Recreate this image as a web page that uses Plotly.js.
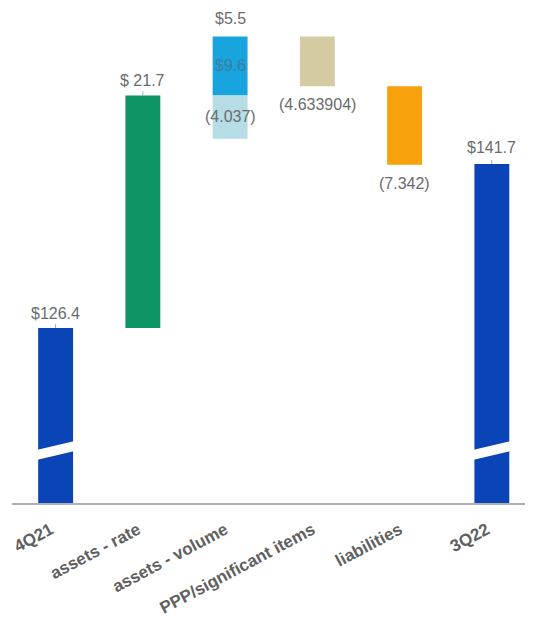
<!DOCTYPE html>
<html>
<head>
<meta charset="utf-8">
<script src="https://cdn.plot.ly/plotly-3.0.1.min.js"></script>
<style>html,body{margin:0;padding:0;background:#fff;}#chart{width:533px;height:626px;}</style>
</head>
<body>
<div id="chart"></div>
<script>
// ---- data ----
const categories = ["4Q21", "assets - rate", "assets - volume", "PPP/significant items", "liabilities", "3Q22"];
const startTotal = 126.4;
const endTotal = 141.7;
const assetsRate = 21.7;
const volumeNet = 5.5;
const volumeGross = 9.6;
const volumeNeg = 4.037;
const pppItems = 4.633904;
const liabilities = 7.342;
const valueLabels = ["$126.4", "$ 21.7", "$5.5", "$9.6", "(4.037)", "(4.633904)", "(7.342)", "$141.7"];

// ---- derived running levels ----
const lvlRate = startTotal + assetsRate;          // after assets-rate
const lvlVol = lvlRate + volumeNet;               // after assets-volume
const lvlPPP = lvlVol - pppItems;                 // after PPP
const lvlLiab = lvlPPP - liabilities;             // after liabilities

// ---- styles ----
const BW = 0.4;
const cTotal = "#0b44b6", cRate = "#0f9465", cVolPos = "#18a5df", cVolNeg = "#b6dde5", cPPP = "#d5cba2", cLiab = "#f7a10c";
const yMin = 110.08, yMax = 157.0;
const breakLevel = 114.1, breakRise = 0.84, breakGap = 0.93;

const common = {type: "bar", width: BW, hoverinfo: "skip", marker: {line: {width: 0}}};
const traces = [
  Object.assign({}, common, {x: [categories[0], categories[5]], y: [startTotal, endTotal], marker: {color: cTotal}}),
  Object.assign({}, common, {x: [categories[1]], y: [assetsRate], base: [startTotal], marker: {color: cRate}}),
  Object.assign({}, common, {x: [categories[2]], y: [volumeNet], base: [lvlRate], marker: {color: cVolPos}}),
  Object.assign({}, common, {x: [categories[2]], y: [volumeNeg], base: [lvlRate - volumeNeg], marker: {color: cVolNeg}}),
  Object.assign({}, common, {x: [categories[3]], y: [pppItems], base: [lvlPPP], marker: {color: cPPP}}),
  Object.assign({}, common, {x: [categories[4]], y: [liabilities], base: [lvlLiab], marker: {color: cLiab}})
];

const lblFont = {family: "Liberation Sans, Arial, sans-serif", size: 16, color: "#6b6b6b"};
function ann(xi, y, text, yanchor, yshift, color) {
  return {x: categories[xi], y: y, xref: "x", yref: "y", text: text, showarrow: false,
    yanchor: yanchor, yshift: yshift, font: Object.assign({}, lblFont, color ? {color: color} : {})};
}
const annotations = [
  ann(0, startTotal, valueLabels[0], "bottom", 4),
  ann(1, lvlRate, valueLabels[1], "bottom", 4),
  ann(2, lvlVol, valueLabels[2], "bottom", 7),
  ann(2, lvlRate + volumeNet / 2, valueLabels[3], "middle", 0, "#3f7d9c"),
  ann(2, lvlRate - volumeNeg / 2, valueLabels[4], "middle", 1),
  ann(3, lvlPPP, valueLabels[5], "top", -8),
  ann(4, lvlLiab, valueLabels[6], "top", -8),
  ann(5, endTotal, valueLabels[7], "bottom", 6)
];

// small connector ticks above the bars
const tickShapes = [[0, startTotal], [1, lvlRate], [5, endTotal]].map(([i, v]) => ({
  type: "line", xref: "x", yref: "y", x0: i, x1: i, ysizemode: "pixel", yanchor: v,
  y0: 0, y1: 4, line: {color: "#7fb0e0", width: 1}
}));

// axis breaks on the total bars
const shapes = [0, 5].map(i => {
  const x0 = i - BW / 2 - 0.02, x1 = i + BW / 2 + 0.02;
  const yl = breakLevel, yr = breakLevel + breakRise;
  return {type: "path", xref: "x", yref: "y", fillcolor: "#ffffff", line: {width: 0},
    path: `M ${x0},${yl} L ${x1},${yr} L ${x1},${yr + breakGap} L ${x0},${yl + breakGap} Z`};
}).concat(tickShapes);

const layout = {
  width: 533, height: 626,
  margin: {l: 12, r: 8, t: 0, b: 123},
  paper_bgcolor: "#ffffff", plot_bgcolor: "#ffffff",
  barmode: "overlay", showlegend: false,
  xaxis: {type: "category", categoryorder: "array", categoryarray: categories, range: [-0.5, 5.38],
    showline: true, linecolor: "#b0b0b0", linewidth: 1.5, showgrid: false, zeroline: false, ticks: "",
    tickangle: -28, automargin: false, ticklabelstandoff: 9, ticklabelshift: -5,
    tickfont: {family: "Liberation Sans, Arial, sans-serif", size: 17, color: "#606060", weight: "bold"}},
  yaxis: {range: [yMin, yMax], visible: false, showgrid: false, zeroline: false, fixedrange: true},
  annotations: annotations,
  shapes: shapes
};

Plotly.newPlot("chart", traces, layout, {staticPlot: true, displayModeBar: false});
</script>
</body>
</html>
